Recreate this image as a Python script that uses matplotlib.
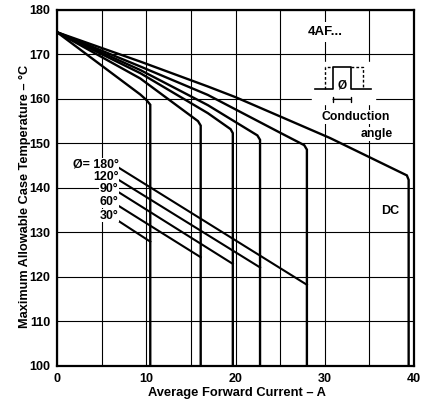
import matplotlib
matplotlib.use("Agg")
import matplotlib.pyplot as plt

plt.rcParams['font.family'] = ['Liberation Sans', 'DejaVu Sans']

# ---- data ----
x_ticks = [0, 10, 20, 30, 40]
y_ticks = [100, 110, 120, 130, 140, 150, 160, 170, 180]

# upper curves: conduction angle -> (current, case temp)
curve_names = ["30°", "60°", "90°", "120°", "180°", "DC"]
curve_x = {
    "30°":  [0, 9.33, 10.0, 10.45, 10.45],
    "60°":  [0, 9.33, 15.8, 16.1, 16.1],
    "90°":  [0, 9.33, 16.9, 19.45, 19.7, 19.7],
    "120°": [0, 9.33, 16.9, 22.45, 22.75, 22.75],
    "180°": [0, 9.33, 16.9, 25, 27.7, 28.0, 28.0],
    "DC":   [0, 9.33, 16.9, 20, 30.6, 39.2, 39.4, 39.4],
}
curve_y = {
    "30°":  [175, 161.0, 159.8, 158.7, 100],
    "60°":  [175, 164.6, 155.0, 154.0, 100],
    "90°":  [175, 165.8, 156.8, 153.2, 152.3, 100],
    "120°": [175, 166.5, 158.6, 151.8, 150.8, 100],
    "180°": [175, 167.3, 160.9, 152.4, 149.6, 148.6, 100],
    "DC":   [175, 168.4, 162.8, 160.4, 151.2, 142.8, 141.8, 100],
}

# lower straight lines starting next to the angle labels
label_names = ["180°", "120°", "90°", "60°", "30°"]
label_text = ["Ø= 180°", "120°", "90°", "60°", "30°"]
label_y = [145.3, 142.5, 139.8, 136.9, 133.7]
low_x0 = [6.7, 6.9, 7.0, 6.7, 6.7]
low_y0 = [144.8, 141.8, 138.9, 136.2, 132.8]
low_x1 = [28.0, 22.75, 19.7, 16.1, 10.45]
low_y1 = [118.2, 122.1, 122.9, 124.4, 127.9]

# conduction-angle inset symbol
pulse_x = [28.9, 30.94, 30.94, 32.89, 32.89, 35.23]
pulse_y = [162.2, 162.2, 167.25, 167.25, 162.2, 162.2]
dash_left_x = [29.99, 29.99, 30.94]
dash_left_y = [162.2, 167.25, 167.25]
dash_right_x = [32.89, 34.23, 34.23]
dash_right_y = [167.25, 167.25, 162.2]

# ---- figure ----
fig = plt.figure(figsize=(4.25, 4.05), dpi=100)
ax = fig.add_axes([57/425, 39.3/405, 357/425, 355.7/405])
ax.set_xlim(0, 40)
ax.set_ylim(100, 180)
ax.set_xticks(x_ticks)
ax.set_xticks(range(0, 41, 5), minor=True)
ax.set_yticks(y_ticks)
ax.tick_params(which='both', length=0, labelsize=9, pad=5)
for lab in ax.get_xticklabels() + ax.get_yticklabels():
    lab.set_fontweight('bold')
ax.grid(which='both', color='black', linewidth=0.8)
ax.set_axisbelow(True)
for s in ax.spines.values():
    s.set_linewidth(1.6)
    s.set_color('black')

for name in curve_names:
    ax.plot(curve_x[name], curve_y[name], color='black', linewidth=1.7,
            solid_joinstyle='miter', zorder=3)

for i in range(len(label_names)):
    ax.plot([low_x0[i], low_x1[i]], [low_y0[i], low_y1[i]], color='black',
            linewidth=1.5, zorder=3)
    ax.text(6.9, label_y[i], label_text[i], ha='right', va='center',
            fontsize=8.9, fontweight='bold', zorder=4,
            bbox=dict(boxstyle='square,pad=0.05', fc='white', ec='none'))

# inset
ax.text(30.1, 175.1, "4AF...", ha='center', va='center', fontsize=9.5,
        fontweight='bold', zorder=4,
        bbox=dict(boxstyle='square,pad=0.3', fc='white', ec='none'))
ax.fill_between([28.6, 35.6], 158.8, 168.2, color='white', zorder=2.5)
ax.plot(pulse_x, pulse_y, color='black', linewidth=1.2, zorder=3)
ax.plot(dash_left_x, dash_left_y, color='black', linewidth=1.0,
        linestyle=(0, (2, 1.5)), zorder=3)
ax.plot(dash_right_x, dash_right_y, color='black', linewidth=1.0,
        linestyle=(0, (2, 1.5)), zorder=3)
ax.text(31.95, 163.1, "Ø", ha='center', va='center', fontsize=8.5,
        fontweight='bold', zorder=4)
ax.annotate("", xy=(30.94, 159.9), xytext=(32.89, 159.9),
            arrowprops=dict(arrowstyle='|-|,widthA=0.2,widthB=0.2',
                            lw=1.0, color='black', shrinkA=0, shrinkB=0),
            zorder=4)
ax.text(33.48, 155.9, "Conduction", ha='center', va='center', fontsize=8.8,
        fontweight='bold', zorder=4,
        bbox=dict(boxstyle='square,pad=0.1', fc='white', ec='none'))
ax.text(35.8, 152.1, "angle", ha='center', va='center', fontsize=8.8,
        fontweight='bold', zorder=4,
        bbox=dict(boxstyle='square,pad=0.1', fc='white', ec='none'))
ax.text(37.28, 134.7, "DC", ha='center', va='center', fontsize=9,
        fontweight='bold', zorder=4,
        bbox=dict(boxstyle='square,pad=0.2', fc='white', ec='none'))

fig.text(237/425, 1 - 393/405, "Average Forward Current – A", ha='center',
         va='center', fontsize=9.3, fontweight='bold')
fig.text(25/425, 1 - 196/405, "Maximum Allowable Case Temperature – °C",
         ha='center', va='center', rotation=90, fontsize=9.2, fontweight='bold')

fig.savefig("out.png", dpi=100)
